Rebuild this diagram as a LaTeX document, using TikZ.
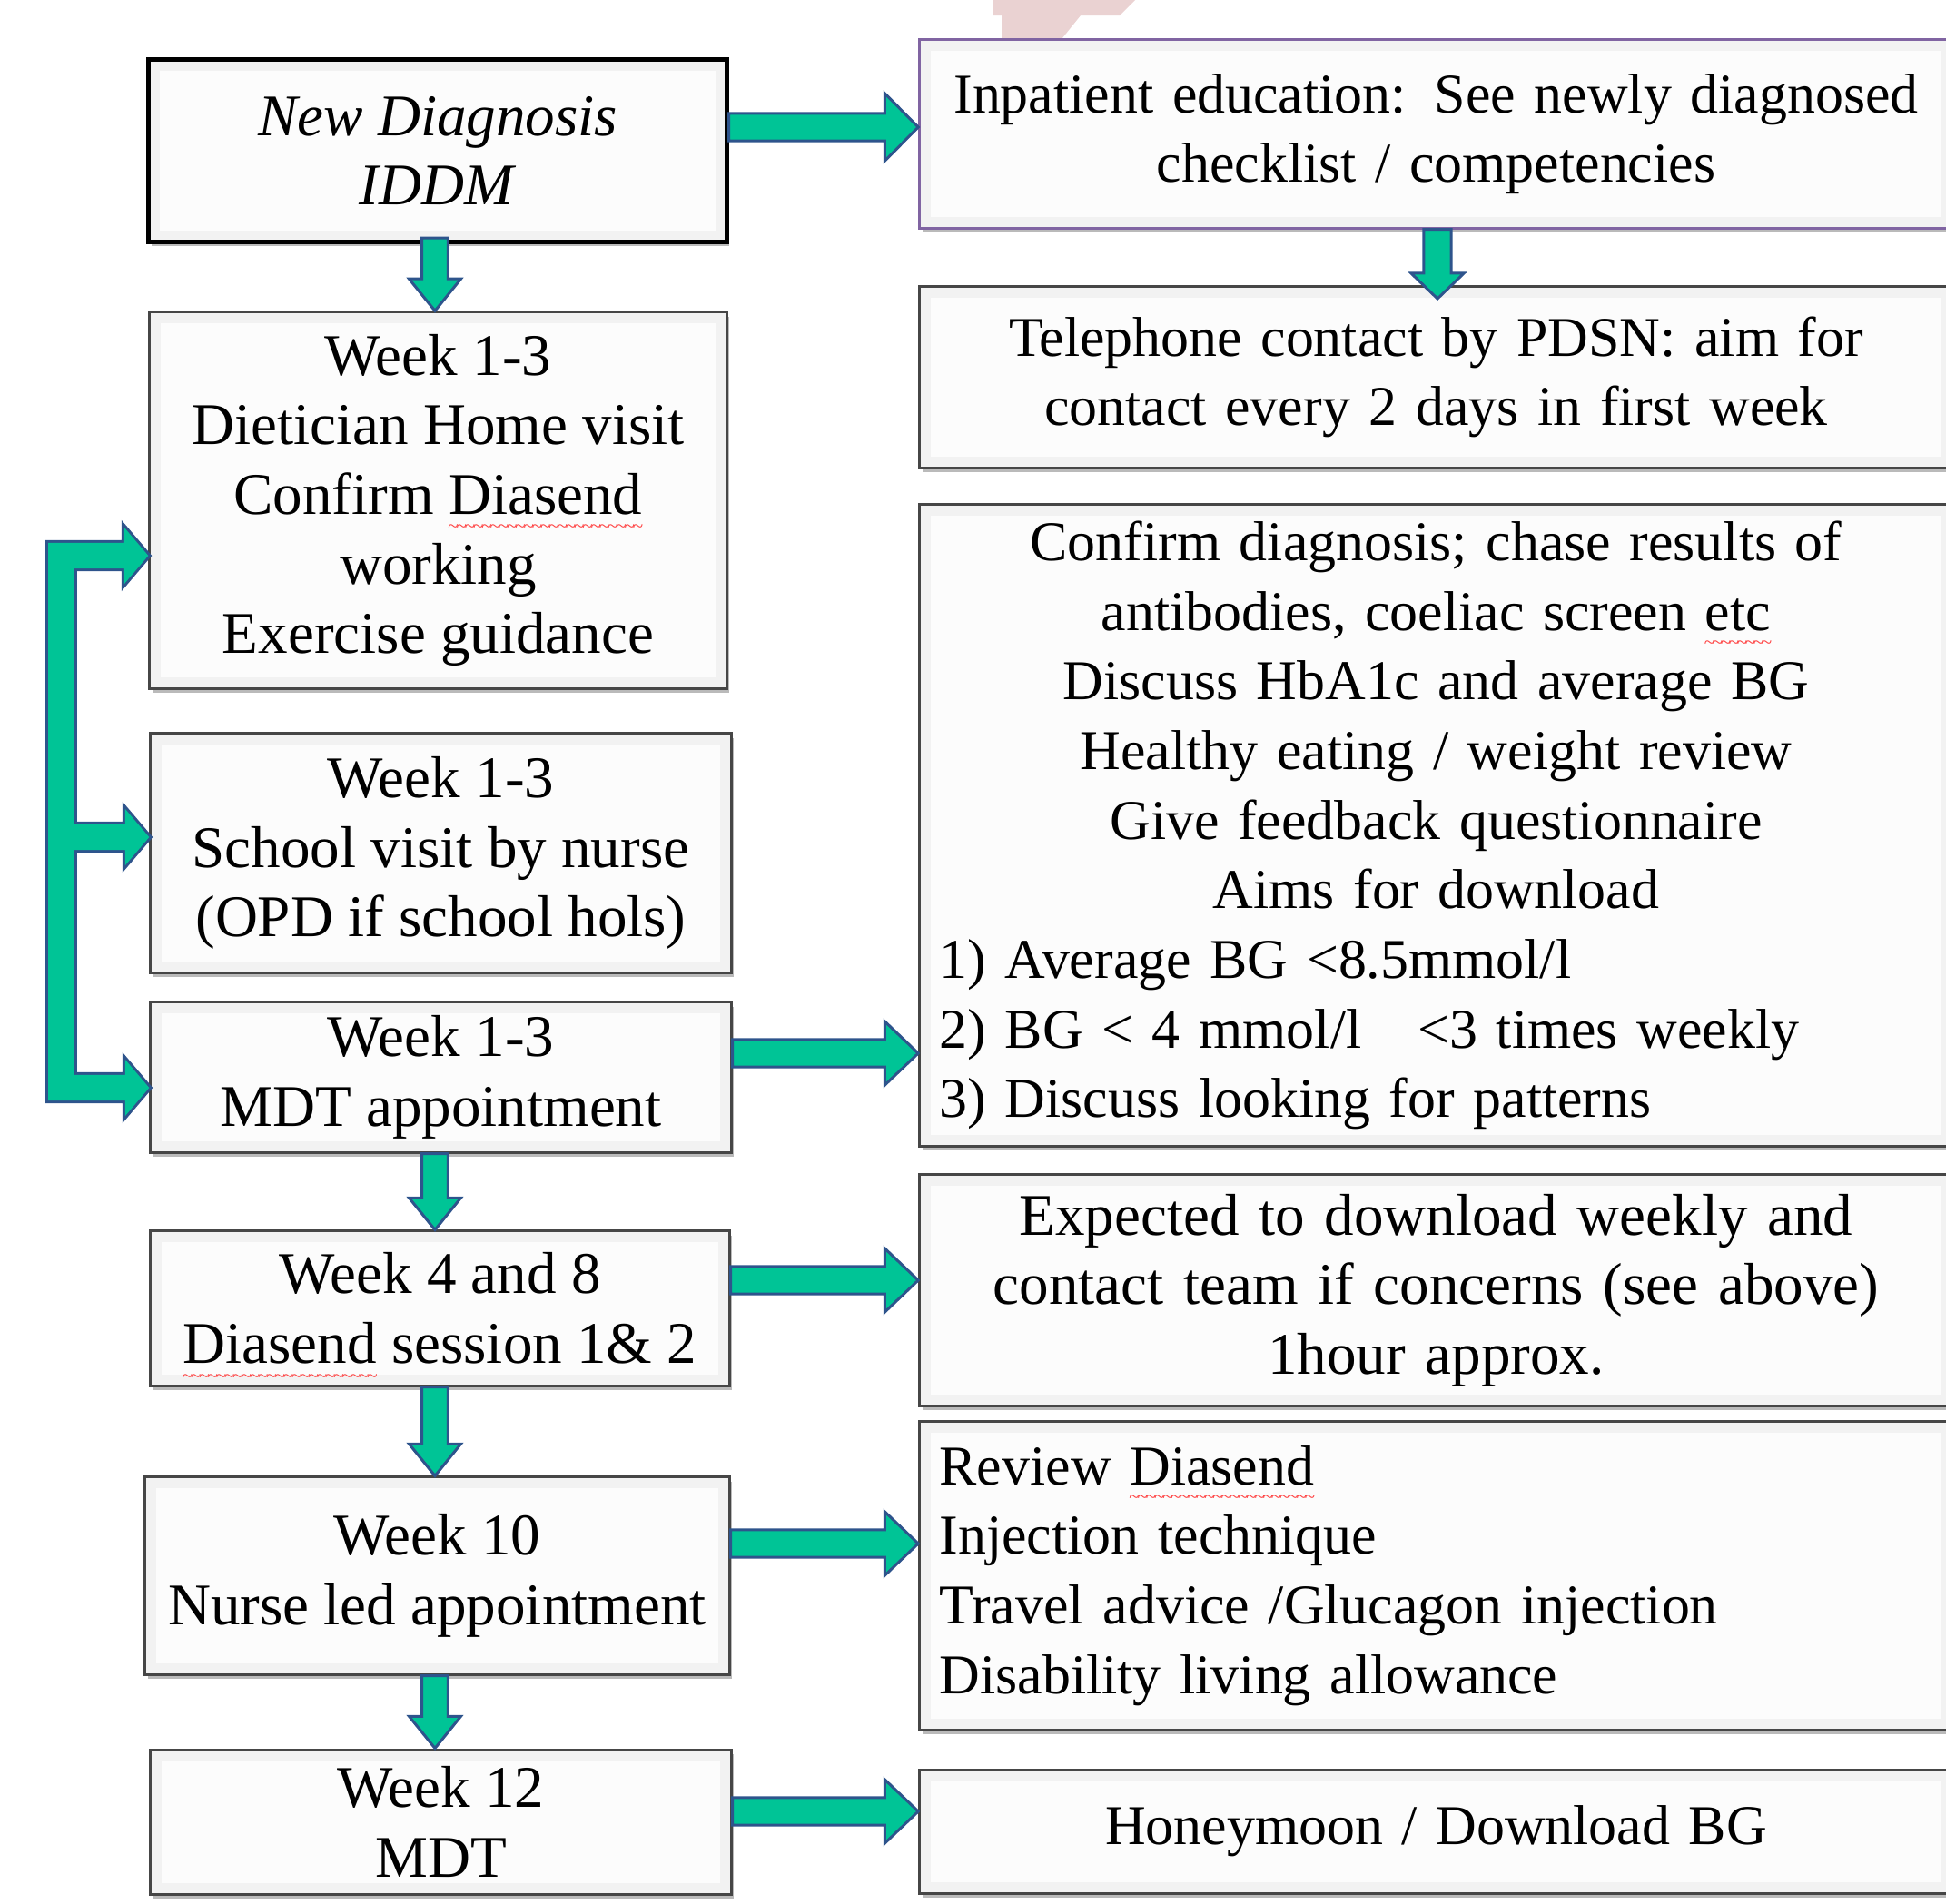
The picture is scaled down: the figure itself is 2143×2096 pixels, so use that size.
\documentclass[tikz,border=0pt]{standalone}
\usepackage{fontspec}
\setmainfont{Liberation Serif}
\usetikzlibrary{calc,shadows}

\definecolor{arrowfill}{RGB}{0,196,150}
\definecolor{arrowline}{RGB}{46,84,140}
\definecolor{boxline}{RGB}{70,70,70}
\definecolor{purpleline}{RGB}{128,100,162}
\definecolor{pinkmark}{RGB}{234,210,210}

\tikzstyle{box}=[draw=boxline,line width=0.85pt,fill=gray!10,inner sep=0pt,align=center,
  drop shadow={shadow xshift=0.8pt,shadow yshift=-1.4pt,fill=black!45,opacity=0.6},
  path picture={\fill[gray!2] ([shift={(3.5pt,-3.5pt)}]path picture bounding box.north west)
    rectangle ([shift={(-3.5pt,3.5pt)}]path picture bounding box.south east);}]
\tikzstyle{weekbox}=[box,font=\fontsize{18.5}{21.8}\selectfont]
\tikzstyle{notebox}=[box,font=\fontsize{17.6}{21.8}\selectfont,minimum width=11.37cm,text width=10.93cm]
\tikzstyle{blockarrow}=[draw=arrowline,line width=0.85pt,fill=arrowfill]

% red wavy spell-check line under a word
\newcommand{\spellmark}[1]{\setbox0=\hbox{#1}\rlap{\raisebox{-5.8pt}[0pt][0pt]{\hbox to \wd0{%
  \color{red!75}\fontsize{6}{6}\selectfont\xleaders\hbox{\kern-0.35pt\char"7E\kern-0.35pt}\hfill}}}\box0\relax}

% fat arrows: style, from, to, shaft half width, head half width, head length
\newcommand{\arrowright}[6]{%
  \path[#1] let \p1=#2, \p2=#3 in
    (\x1,\y1-#4) -- (\x2-#6,\y1-#4) -- (\x2-#6,\y1-#5) -- (\x2,\y1)
    -- (\x2-#6,\y1+#5) -- (\x2-#6,\y1+#4) -- (\x1,\y1+#4) -- cycle;}
\newcommand{\arrowdown}[6]{%
  \path[#1] let \p1=#2, \p2=#3 in
    (\x1-#4,\y1) -- (\x1-#4,\y2+#6) -- (\x1-#5,\y2+#6) -- (\x1,\y2)
    -- (\x1+#5,\y2+#6) -- (\x1+#4,\y2+#6) -- (\x1+#4,\y1) -- cycle;}

\begin{document}
\begin{tikzpicture}[x=0.01cm,y=-0.01cm]
    \useasboundingbox (0,0) rectangle (2143,2096);
    \clip (0,0) rectangle (2143,2096);
    \fill[pinkmark] (1093,0) -- (1250,0) -- (1233,17) -- (1190,17) -- (1165,48) -- (1103,48) -- (1103,17) -- (1093,17) -- cycle;

    % left column
    \node (b1) [weekbox,draw=black,line width=1.4pt,minimum width=6.36cm,minimum height=2.00cm] at (482,166) {\textit{New Diagnosis}\\\textit{IDDM}};
    \node (b2) [weekbox,minimum width=6.35cm,minimum height=4.14cm] at (482.5,551) {Week 1-3\\Dietician Home visit\\Confirm \spellmark{Diasend}\\working\\Exercise guidance};
    \node (b3) [weekbox,minimum width=6.39cm,minimum height=2.63cm] at (485.5,939.5) {Week 1-3\\School visit by nurse\\(OPD if school hols)};
    \node (b4) [weekbox,minimum width=6.39cm,minimum height=1.65cm] at (485.5,1186.5) {Week 1-3\\MDT appointment};
    \node (b5) [weekbox,minimum width=6.37cm,minimum height=1.70cm] at (484.5,1441) {Week 4 and 8\\\spellmark{Diasend} session 1\& 2};
    \node (b6) [weekbox,minimum width=6.43cm,minimum height=2.17cm] at (481.5,1735.5) {Week 10\\Nurse led appointment};
    \node (b7) [weekbox,minimum width=6.39cm,minimum height=1.59cm] at (485.5,2006.5) {Week 12\\MDT};

    % right column
    \node (r1) [notebox,draw=purpleline,minimum height=2.07cm] at (1581.5,147.5) {Inpatient education: See newly diagnosed\\checklist / competencies};
    \node (r2) [notebox,minimum height=1.99cm] at (1581.5,415.5) {Telephone contact by PDSN: aim for\\contact every 2 days in first week};
    \node (r3) [notebox,align=left,minimum height=7.06cm] at (1581.5,909) {{\centering Confirm diagnosis; chase results of\\antibodies, coeliac screen \spellmark{etc}\\Discuss HbA1c and average BG\\Healthy eating / weight review\\Give feedback questionnaire\\Aims for download\par}
      1) Average BG <8.5mmol/l\\2) BG < 4 mmol/l\quad <3 times weekly\\3) Discuss looking for patterns};
    \node (r4) [notebox,font=\fontsize{18.5}{21.8}\selectfont,minimum height=2.54cm] at (1581.5,1421) {Expected to download weekly and\\contact team if concerns (see above)\\1hour approx.};
    \node (r5) [notebox,align=left,minimum height=3.39cm] at (1581.5,1735.5) {Review \spellmark{Diasend}\\Injection technique\\Travel advice /Glucagon injection\\Disability living allowance};
    \node (r6) [notebox,minimum height=1.36cm] at (1581.5,2017) {Honeymoon / Download BG};

    % arrows across
    \arrowright{blockarrow}{(b1.east |- 0,140)}{(r1.west |- 0,140)}{4.3pt}{10.6pt}{10.5pt}
    \arrowright{blockarrow}{(b4.east |- 0,1160)}{(r3.west |- 0,1160)}{4.3pt}{10pt}{10.5pt}
    \arrowright{blockarrow}{(b5.east |- 0,1410)}{(r4.west |- 0,1410)}{4.3pt}{10pt}{10.5pt}
    \arrowright{blockarrow}{(b6.east |- 0,1700)}{(r5.west |- 0,1700)}{4.3pt}{10pt}{10.5pt}
    \arrowright{blockarrow}{(b7.east |- 0,1995)}{(r6.west |- 0,1995)}{4.3pt}{10pt}{10.5pt}

    % arrows down
    \arrowdown{blockarrow}{(479,262)}{(b2.north -| 479,0)}{4.1pt}{8.1pt}{10pt}
    \arrowdown{blockarrow}{(b4.south -| 479,0)}{(b5.north -| 479,0)}{4.1pt}{8.1pt}{10pt}
    \arrowdown{blockarrow}{(b5.south -| 479,0)}{(b6.north -| 479,0)}{4.1pt}{8.1pt}{10pt}
    \arrowdown{blockarrow}{(b6.south -| 479,0)}{(b7.north -| 479,0)}{4.1pt}{8.1pt}{10pt}
    \arrowdown{blockarrow}{(r1.south -| 1583,0)}{(1583,329)}{4.3pt}{8.3pt}{8pt}

    % bracket to the week 1-3 boxes
    \coordinate (brtop) at (53,598);
    \coordinate (brbot) at (82,1212);
    \draw[arrowline,line width=1.7pt] (brtop) rectangle (brbot);
    \arrowright{draw=arrowline,line width=1.7pt}{(brtop |- 0,612)}{(b2.west |- 0,612)}{4pt}{8.8pt}{7.5pt}
    \arrowright{draw=arrowline,line width=1.7pt}{(brtop |- 0,922)}{(b3.west |- 0,922)}{4pt}{8.8pt}{7.5pt}
    \arrowright{draw=arrowline,line width=1.7pt}{(brtop |- 0,1198)}{(b4.west |- 0,1198)}{4pt}{8.8pt}{7.5pt}
    \fill[arrowfill] (brtop) rectangle (brbot);
    \arrowright{fill=arrowfill}{(brtop |- 0,612)}{(b2.west |- 0,612)}{4pt}{8.8pt}{7.5pt}
    \arrowright{fill=arrowfill}{(brtop |- 0,922)}{(b3.west |- 0,922)}{4pt}{8.8pt}{7.5pt}
    \arrowright{fill=arrowfill}{(brtop |- 0,1198)}{(b4.west |- 0,1198)}{4pt}{8.8pt}{7.5pt}
\end{tikzpicture}
\end{document}
